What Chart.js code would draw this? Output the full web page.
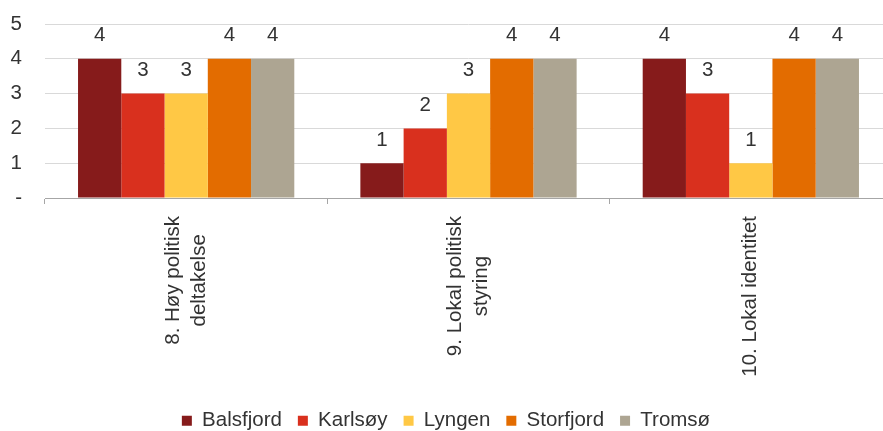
<!DOCTYPE html>
<html>
<head>
<meta charset="utf-8">
<script src="https://cdn.jsdelivr.net/npm/chart.js@4.4.0/dist/chart.umd.min.js"></script>
<style>
  html, body { margin: 0; padding: 0; background: #fff; overflow: hidden; }
  #wrap { position: absolute; left: 0; top: 0; width: 892px; height: 441px; }
</style>
</head>
<body>
<div id="wrap"><canvas id="myChart"></canvas></div>
<script>
// Chart data
var categories = [
  ['8. Høy politisk', 'deltakelse'],
  ['9. Lokal politisk', 'styring'],
  ['10. Lokal identitet']
];
var seriesNames = ['Balsfjord', 'Karlsøy', 'Lyngen', 'Storfjord', 'Tromsø'];
var balsfjord = [4, 1, 4];
var karlsoy = [3, 2, 3];
var lyngen = [3, 3, 1];
var storfjord = [4, 4, 4];
var tromso = [4, 4, 4];
var yTicks = [0, 1, 2, 3, 4, 5];
var yTickLabels = ['-', '1', '2', '3', '4', '5'];

var colors = [
  '#861b1b', // Balsfjord - dark red
  '#d9301e', // Karlsøy - red
  '#ffc845', // Lyngen - yellow
  '#e36c00', // Storfjord - orange
  '#ada592'  // Tromsø - grey/beige
];

var fontFamily = '"Liberation Sans", Arial, sans-serif';
var textColor = '#333333';
var fontSize = 20.5;

var seriesValues = [balsfjord, karlsoy, lyngen, storfjord, tromso];
var datasets = seriesNames.map(function (name, i) {
  return {
    label: name,
    data: seriesValues[i],
    backgroundColor: colors[i],
    borderWidth: 0,
    categoryPercentage: 0.766,
    barPercentage: 1.0
  };
});

// Draws the value above every bar
var valueLabels = {
  id: 'valueLabels',
  afterDatasetsDraw: function (chart) {
    var ctx = chart.ctx;
    ctx.save();
    ctx.font = fontSize + 'px ' + fontFamily;
    ctx.fillStyle = textColor;
    ctx.textAlign = 'center';
    ctx.textBaseline = 'middle';
    chart.data.datasets.forEach(function (ds, i) {
      var meta = chart.getDatasetMeta(i);
      meta.data.forEach(function (bar, j) {
        ctx.fillText(String(ds.data[j]), bar.x, bar.y - 23);
      });
    });
    ctx.restore();
  }
};

// Draws the rotated category labels, lines centred on each other
var categoryLabels = {
  id: 'categoryLabels',
  afterDraw: function (chart) {
    var ctx = chart.ctx;
    var xScale = chart.scales.x;
    var lineHeight = 26;
    ctx.save();
    ctx.font = fontSize + 'px ' + fontFamily;
    ctx.fillStyle = textColor;
    ctx.textAlign = 'center';
    ctx.textBaseline = 'middle';
    categories.forEach(function (lines, i) {
      var x = xScale.getPixelForValue(i);
      var maxW = 0;
      lines.forEach(function (l) {
        maxW = Math.max(maxW, ctx.measureText(l).width);
      });
      ctx.save();
      ctx.translate(x, chart.chartArea.bottom + 18 + maxW / 2);
      ctx.rotate(-Math.PI / 2);
      lines.forEach(function (l, k) {
        ctx.fillText(l, 0, (k - (lines.length - 1) / 2) * lineHeight);
      });
      ctx.restore();
    });
    ctx.restore();
  }
};

var ctx = document.getElementById('myChart').getContext('2d');
var myChart = new Chart(ctx, {
  type: 'bar',
  data: {
    labels: categories,
    datasets: datasets
  },
  plugins: [valueLabels, categoryLabels],
  options: {
    responsive: true,
    maintainAspectRatio: false,
    animation: false,
    layout: {
      autoPadding: false,
      padding: { top: 24, left: 0, right: 0, bottom: 0 }
    },
    scales: {
      x: {
        offset: true,
        grid: {
          display: true,
          offset: true,
          drawOnChartArea: false,
          drawTicks: true,
          tickLength: 6,
          color: '#a6a6a6'
        },
        border: { display: true, color: '#a6a6a6', width: 1 },
        ticks: { display: false },
        afterFit: function (scale) {
          scale.height = 196.5;
        }
      },
      y: {
        min: 0,
        max: 5,
        afterBuildTicks: function (scale) {
          scale.ticks = yTicks.map(function (v) { return { value: v }; });
        },
        grid: {
          color: '#d9d9d9',
          drawTicks: false
        },
        border: { display: false },
        ticks: {
          padding: 23,
          color: textColor,
          font: { family: fontFamily, size: fontSize },
          callback: function (value) {
            return yTickLabels[yTicks.indexOf(value)];
          }
        },
        afterFit: function (scale) {
          scale.width = 45;
          scale.paddingTop = 0; // keep the plot top where the padding says
          scale.paddingBottom = 0;
        }
      }
    },
    plugins: {
      tooltip: { enabled: false },
      legend: {
        display: true,
        position: 'bottom',
        labels: {
          boxWidth: 10,
          boxHeight: 10,
          padding: 16,
          color: textColor,
          font: { family: fontFamily, size: fontSize }
        }
      }
    }
  }
});
</script>
</body>
</html>
